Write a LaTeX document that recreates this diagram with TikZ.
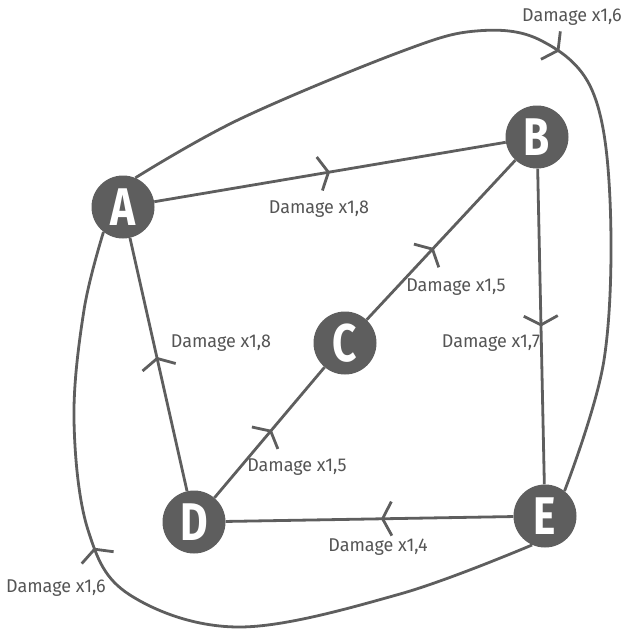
\documentclass[tikz,border=0pt]{standalone}
\usepackage{fontspec}
\setmainfont{Fira Sans}
\newfontfamily\lblfont[FakeStretch=0.97]{Fira Sans}
\newfontfamily\nodefont[FakeStretch=0.8]{Fira Sans}
\usetikzlibrary{arrows.meta,decorations.markings}
\definecolor{dk}{HTML}{5E5E5E}
\definecolor{tx}{HTML}{555555}
\tikzset{
  vert/.style={circle, fill=dk, minimum size=63pt, inner sep=0pt, text=white,
    font=\nodefont\bfseries\fontsize{53}{53}\selectfont},
  edge/.style={draw=dk, line width=2.8pt},
  mid/.style={postaction={decorate}, decoration={markings,
    mark=at position #1 with {\arrow{Straight Barb[length=9pt,width=34pt]}}}},
  lbl/.style={text=tx, inner sep=0pt, font=\lblfont\fontsize{18.5}{18.5}\selectfont},
}
\begin{document}
\begin{tikzpicture}[x=1pt,y=-1pt]
\useasboundingbox (0,0) rectangle (624,629);
\node[vert] (A) at (123,207) {A};
\node[vert] (B) at (537,137) {B};
\node[vert] (C) at (345,343) {C};
\node[vert] (D) at (194,522) {D};
\node[vert] (E) at (545,516) {E};

\draw[edge, mid=0.5] (A) -- (B);
\draw[edge, mid=0.5] (B) -- (E);
\draw[edge, mid=0.46] (E) -- (D);
\draw[edge, mid=0.53] (D) -- (A);
\draw[edge, mid=0.52] (D) -- (C);
\draw[edge, mid=0.45] (C) -- (B);

\draw[edge, mid=0.5] plot[smooth, tension=0.6] coordinates {(A.67) (240,119) (400,52) (476,31) (540,40) (592,90) (610,200) (604,360) (E.52)};
\draw[edge, mid=0.6] plot[smooth, tension=0.6] coordinates {(E.-114) (400,594) (240,627) (130,595) (88,530) (74,420) (84,310) (A.-128)};

\node[lbl] (l1) at (319,209) {Damage x1,8};
\node[lbl] (l2) at (456,287) {Damage x1,5};
\node[lbl] (l3) at (572,17) {Damage x1,6};
\node[lbl] (l4) at (221,343) {Damage x1,8};
\node[lbl] (l5) at (491,343) {Damage x1,7};
\node[lbl] (l6) at (297,467) {Damage x1,5};
\node[lbl] (l7) at (378,547) {Damage x1,4};
\node[lbl] (l8) at (56,588) {Damage x1,6};
\end{tikzpicture}
\end{document}
